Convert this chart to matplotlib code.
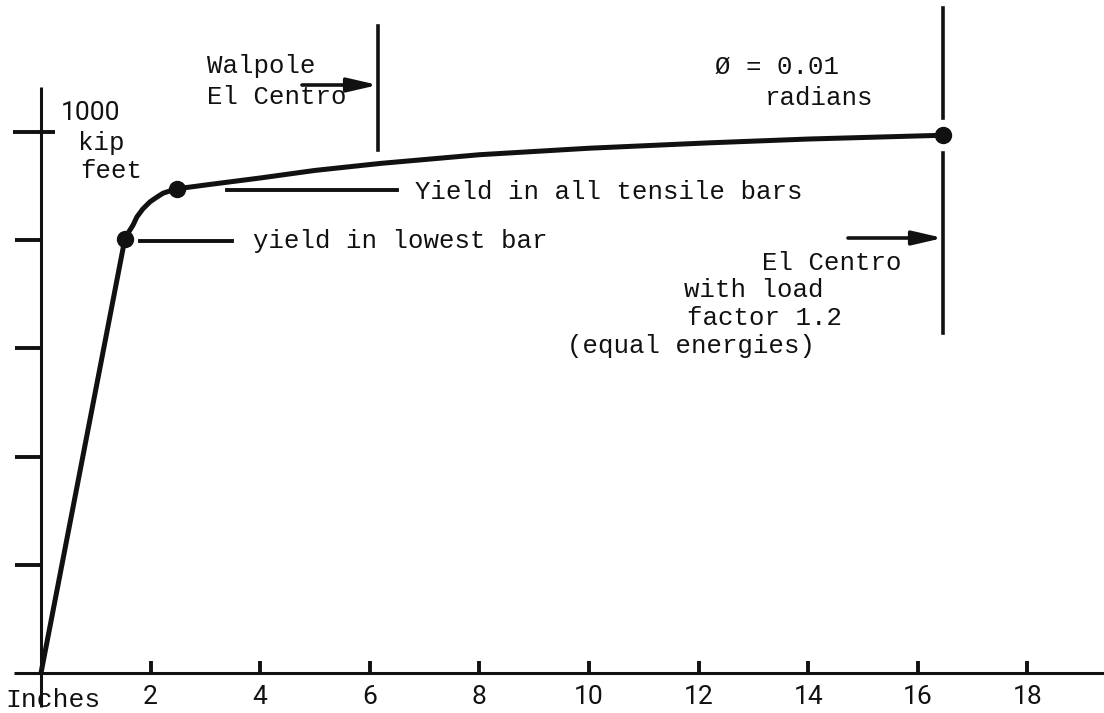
import numpy as np
import matplotlib
matplotlib.use('Agg')
import matplotlib.pyplot as plt

# --- data (inches, kip feet) ---
curve_x = [0.0, 1.53, 1.60, 1.68, 1.75, 1.86, 1.99, 2.12, 2.23, 2.35, 2.48,
           3.0, 4.0, 5.0, 6.2, 8.0, 10.0, 12.2, 14.0, 16.46]
curve_y = [0.0, 802, 815, 828, 843, 858, 871, 880, 887, 891, 895,
           902, 915, 929, 942, 958, 970, 980, 987, 994]
dot_x = [1.53, 2.48, 16.46]
dot_y = [802, 895, 994]

x_ticks = [2, 4, 6, 8, 10, 12, 14, 16, 18]
x_tick_labels = ['2', '4', '6', '8', '10', '12', '14', '16', '18']
y_ticks = [200, 400, 600, 800, 1000]

walpole_x = 6.15
phi_x = 16.46

# pixel -> data mapping (figure is 1104 x 713 px, axes fill the figure)
X0, SX = 41.0, 54.8     # px of x=0, px per inch
Y0, SY = 673.0, 0.541   # px of y=0, px per kip foot


def P(px, py):
    return (px - X0) / SX, (Y0 - py) / SY


mono = 'Liberation Mono'
sans = ['Roboto', 'DejaVu Sans']
ink = '#111111'

fig = plt.figure(figsize=(11.04, 7.13), dpi=100)
ax = fig.add_axes([0, 0, 1, 1])
ax.set_xlim(P(0, 0)[0], P(1104, 0)[0])
ax.set_ylim(P(0, 713)[1], P(0, 0)[1])
ax.axis('off')

# axes drawn by hand like the sketch
ax.plot([P(14, 0)[0], P(1104, 0)[0]], [0, 0], color=ink, lw=2.2, solid_capstyle='butt')
ax.plot([0, 0], [P(0, 707)[1], P(0, 87)[1]], color=ink, lw=2.2, solid_capstyle='butt')
for t in x_ticks:
    ax.plot([t, t], [0, 12 / SY], color=ink, lw=2.8, solid_capstyle='butt')
for t in y_ticks:
    left = -28 / SX if t == 1000 else -26 / SX
    right = 14 / SX if t == 1000 else 0
    ax.plot([left, right], [t, t], color=ink, lw=2.8, solid_capstyle='butt')

for t, lab in zip(x_ticks, x_tick_labels):
    ax.text(t, P(0, 697)[1], lab, ha='center', va='center', fontsize=19,
            family=sans, color=ink)
ax.text(*P(5, 700), 'Inches', ha='left', va='center', fontsize=19, family=mono, color=ink)

# load-deflection curve
ax.plot(curve_x, curve_y, color=ink, lw=3.6, solid_joinstyle='round', solid_capstyle='round')
ax.plot(dot_x, dot_y, 'o', color=ink, ms=11.5)

# y label
ax.text(*P(61, 113), '1000', ha='left', va='center', fontsize=19, family=sans, color=ink)
ax.text(*P(78, 143), 'kip', ha='left', va='center', fontsize=18.5, family=mono, color=ink)
ax.text(*P(80, 171), 'feet', ha='left', va='center', fontsize=18.5, family=mono, color=ink)

# yield annotations
ax.plot([P(140, 0)[0], P(232, 0)[0]], [P(0, 241)[1]] * 2, color=ink, lw=2.8)
ax.text(*P(253, 241), 'yield in lowest bar', ha='left', va='center', fontsize=18.5,
        family=mono, color=ink)
ax.plot([P(227, 0)[0], P(397, 0)[0]], [P(0, 190)[1]] * 2, color=ink, lw=2.8)
ax.text(*P(415, 192), 'Yield in all tensile bars', ha='left', va='center', fontsize=18.5,
        family=mono, color=ink)

# Walpole El Centro marker
ax.plot([walpole_x, walpole_x], [P(0, 150)[1], P(0, 26)[1]], color=ink, lw=2.6)
arrow = dict(arrowstyle='-|>,head_length=1.3,head_width=0.3', color=ink, lw=2.6,
             shrinkA=0, shrinkB=0, mutation_scale=14)
ax.annotate('', xy=(walpole_x, P(0, 85)[1]), xytext=P(302, 85), arrowprops=arrow)
ax.text(*P(207, 66), 'Walpole', ha='left', va='center', fontsize=18.5, family=mono, color=ink)
ax.text(*P(207, 97), 'El Centro', ha='left', va='center', fontsize=18.5, family=mono, color=ink)

# phi = 0.01 radians marker
ax.plot([phi_x, phi_x], [P(0, 118)[1], P(0, 8)[1]], color=ink, lw=2.6)
ax.plot([phi_x, phi_x], [P(0, 333)[1], P(0, 153)[1]], color=ink, lw=2.6)
ax.text(*P(715, 67), 'Ø = 0.01', ha='left', va='center', fontsize=18.5,
        family=[mono, 'DejaVu Sans Mono'], color=ink)
ax.text(*P(765, 98), 'radians', ha='left', va='center', fontsize=18.5, family=mono, color=ink)

# El Centro with load factor
ax.annotate('', xy=(phi_x, P(0, 238)[1]), xytext=P(848, 238), arrowprops=arrow)
ax.text(*P(762, 263), 'El Centro', ha='left', va='center', fontsize=18.5, family=mono, color=ink)
ax.text(*P(684, 290), 'with load', ha='left', va='center', fontsize=18.5, family=mono, color=ink)
ax.text(*P(687, 318), 'factor 1.2', ha='left', va='center', fontsize=18.5, family=mono, color=ink)
ax.text(*P(567, 346), '(equal energies)', ha='left', va='center', fontsize=18.5,
        family=mono, color=ink)

fig.savefig('out.png', dpi=100)
